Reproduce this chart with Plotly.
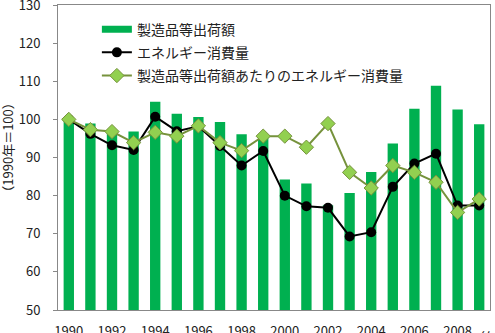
import plotly.graph_objects as go

years = list(range(1990, 2010))
shipments = [100, 98.9, 97.2, 96.8, 104.6, 101.5, 100.6, 99.3, 96.1, 96.0,
             84.2, 83.2, 77.5, 80.7, 86.2, 93.7, 102.8, 108.8, 102.6, 98.7]
energy = [100, 96.2, 93.2, 92.0, 100.7, 96.9, 98.2, 93.0, 87.9, 91.7,
          80.0, 77.2, 76.8, 69.3, 70.4, 82.3, 88.4, 91.0, 77.4, 77.4]
intensity = [100, 97.3, 96.8, 93.9, 96.6, 95.6, 98.3, 93.9, 91.8, 95.6,
             95.6, 92.7, 98.9, 86.1, 82.0, 87.9, 86.1, 83.5, 75.6, 79.1]
names = ["製造品等出荷額", "エネルギー消費量", "製造品等出荷額あたりのエネルギー消費量"]
tick_years = list(range(1990, 2010, 2))
y_ticks = list(range(50, 131, 10))

FONT = "Noto Sans CJK JP"
GREEN = "#00B050"

fig = go.Figure()
fig.add_trace(go.Bar(x=years, y=shipments, name=names[0], marker_color=GREEN,
                     marker_line_width=0, showlegend=False, legendgroup="a"))
# legend entry for the bars (wide flat swatch like the original)
fig.add_trace(go.Scatter(x=[None], y=[None], name=names[0], mode="lines",
                         line=dict(color=GREEN, width=7), legendgroup="a"))
fig.add_trace(go.Scatter(x=years, y=energy, name=names[1], mode="lines+markers",
                         line=dict(color="black", width=2), legendgroup="b",
                         marker=dict(symbol="circle", size=10, color="black")))
fig.add_trace(go.Scatter(x=years, y=intensity, name=names[2], mode="lines+markers",
                         line=dict(color="#76923C", width=2), legendgroup="c",
                         marker=dict(symbol="diamond", size=11, color="#92D050",
                                     line=dict(color="#76923C", width=1))))

fig.update_layout(
    width=495, height=333,
    margin=dict(l=58, r=5, t=5, b=23),
    paper_bgcolor="white", plot_bgcolor="white",
    font=dict(family=FONT, size=13, color="#222"),
    bargap=0.52,
    showlegend=True,
    legend=dict(x=0.09, y=0.972, xanchor="left", yanchor="top",
                traceorder="grouped", tracegroupgap=2,
                bgcolor="rgba(0,0,0,0)", font=dict(size=14, color="#222")),
    xaxis=dict(range=[1989.5, 2009.5], tickmode="array", tickvals=tick_years,
               ticktext=[str(y) for y in tick_years], showgrid=False,
               showline=True, linecolor="#888", linewidth=1, mirror=True,
               ticks="", ticklabelstandoff=9, ticklabeloverflow="allow",
               automargin=False, tickfont=dict(size=13)),
    yaxis=dict(range=[50, 130], tickmode="array", tickvals=y_ticks,
               showgrid=False, zeroline=False,
               showline=True, linecolor="#888", linewidth=1, mirror=True,
               ticks="outside", ticklen=4, tickcolor="#888",
               ticklabelstandoff=10, ticklabeloverflow="allow", automargin=False,
               tickfont=dict(size=13)),
)
fig.add_annotation(text="（1990年＝100）", xref="paper", yref="paper",
                   x=-0.116, y=0.535, xanchor="center", yanchor="middle",
                   textangle=-90, showarrow=False,
                   font=dict(size=13, color="#222"))
fig.add_annotation(text="（年）", xref="paper", yref="paper", x=0.953, y=0,
                   xanchor="left", yanchor="top", yshift=-15, showarrow=False,
                   font=dict(size=13, color="#222"))

fig.write_html("out.html")
